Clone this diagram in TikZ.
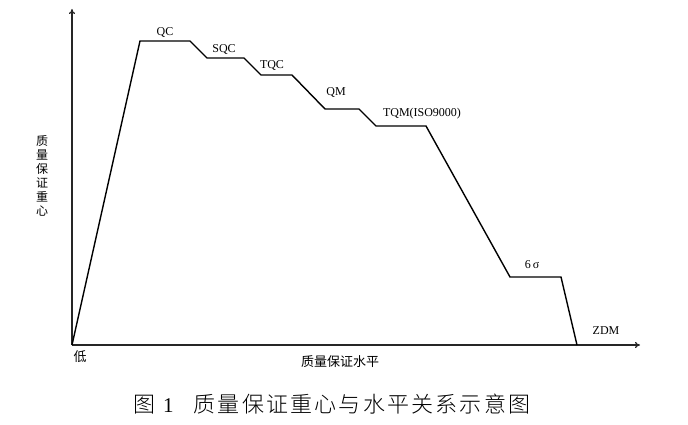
\documentclass[tikz,border=0pt]{standalone}
\usepackage{fontspec}
\setmainfont{Liberation Serif}
\newfontfamily\cjk{Noto Sans CJK SC}
\newfontfamily\cjkcap[LetterSpace=10]{Noto Sans CJK SC Light}
\usetikzlibrary{arrows.meta}
\tikzset{
  axis/.style={draw=black!85, line width=1.1pt, -{To[length=5pt,width=6pt]}},
  curve/.style={draw=black, line width=1.4pt, line join=miter},
  lab/.style={inner sep=0pt, font=\fontsize{12}{12}\selectfont},
  cjklab/.style={inner sep=0pt, font=\cjk\fontsize{13}{13}\selectfont},
}
\begin{document}
\begin{tikzpicture}[x=1pt,y=-1pt]
\useasboundingbox (0,0) rectangle (688,425);
\fill[white] (0,0) rectangle (688,425);
\coordinate (O) at (72,345);
\coordinate (ytop) at (72,9);
\coordinate (xend) at (640,345);
\draw[axis] (O) -- (ytop);
\draw[axis] (O) -- (xend);
\coordinate (p1) at (140,41);
\coordinate (p2) at (190,41);
\coordinate (p3) at (207,58);
\coordinate (p4) at (244,58);
\coordinate (p5) at (261,75);
\coordinate (p6) at (292,75);
\coordinate (p7) at (325,109);
\coordinate (p8) at (359,109);
\coordinate (p9) at (376,126);
\coordinate (p10) at (426,126);
\coordinate (p11) at (510,277);
\coordinate (p12) at (561,277);
\coordinate (p13) at (577,345);
\draw[curve] (O) -- (p1) -- (p2) -- (p3) -- (p4) -- (p5) -- (p6) -- (p7) -- (p8) -- (p9) -- (p10) -- (p11) -- (p12) -- (p13);
\node[lab] (qc) at (165,33) {QC};
\node[lab] (sqc) at (224,50) {SQC};
\node[lab] (tqc) at (272,66) {TQC};
\node[lab] (qm) at (336,93) {QM};
\node[lab] (tqm) at (422,114) {TQM(ISO9000)};
\node[lab] (six) at (532,265) {6\,σ};
\node[lab] (zdm) at (606,331) {ZDM};
\node[cjklab] (low) at (80,357) {低};
\node[cjklab] (xlab) at (340,362) {质量保证水平};
\node[cjklab, align=center, font=\cjk\fontsize{12}{14}\selectfont] (ylab) at (42,176) {质\\量\\保\\证\\重\\心};
\node[inner sep=0pt, anchor=west, font=\cjkcap\fontsize{22}{22}\selectfont] (cap) at (133,404) {图\hspace{8pt}{\rmfamily\fontsize{21}{21}\selectfont 1}\hspace{20pt}质量保证重心与水平关系示意图};
\end{tikzpicture}
\end{document}
